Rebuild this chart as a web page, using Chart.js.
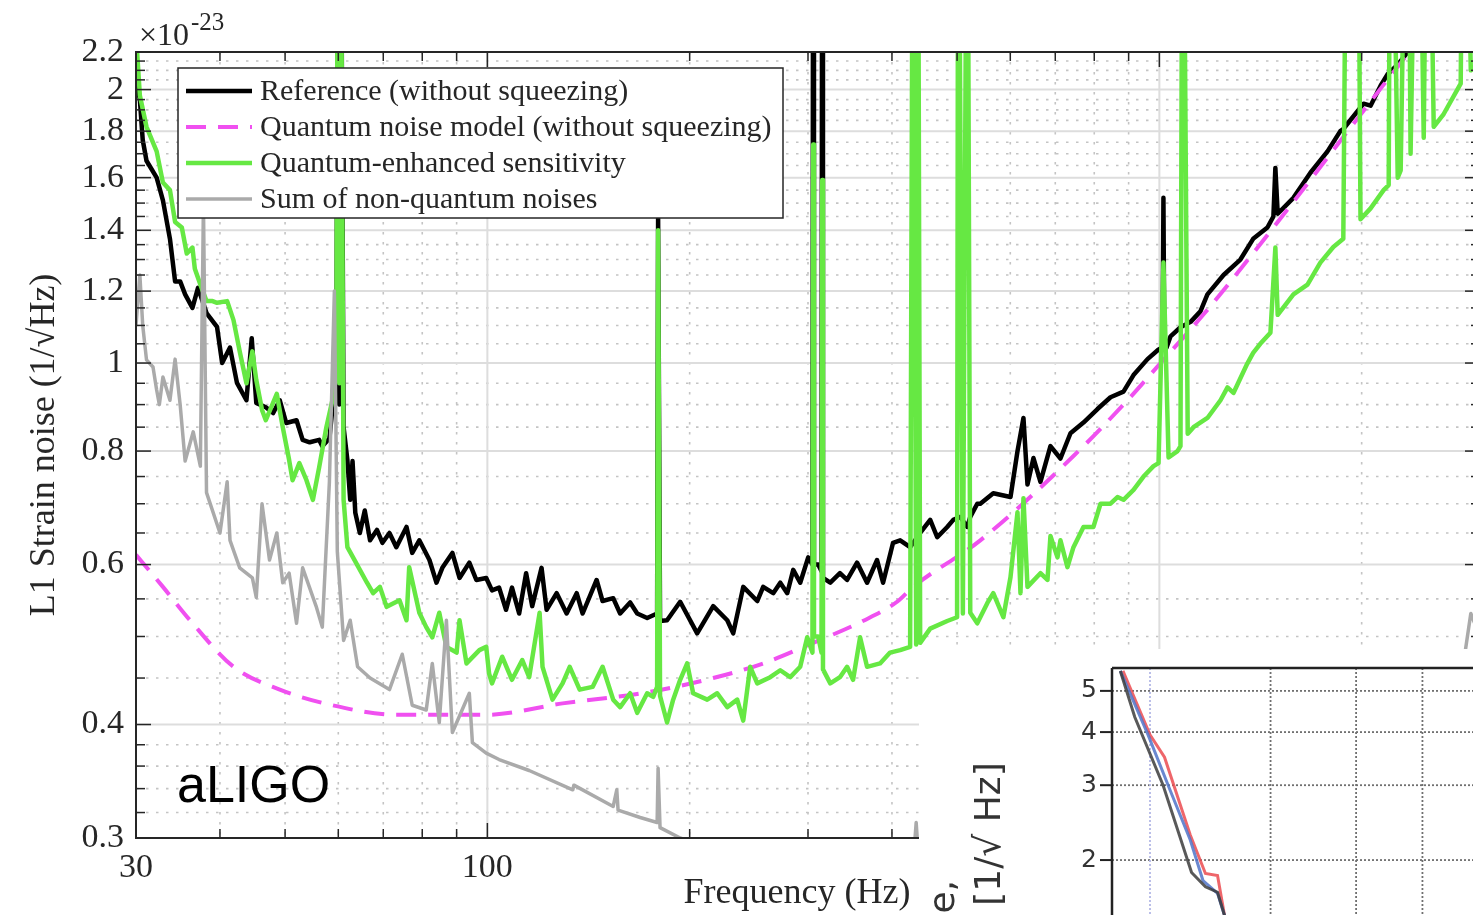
<!DOCTYPE html>
<html>
<head>
<meta charset="utf-8">
<script src="https://cdn.jsdelivr.net/npm/chart.js@4.4.1/dist/chart.umd.min.js"></script>
<style>
    html, body { margin: 0; padding: 0; background: #fff; overflow: hidden; width: 1473px; height: 915px; }
    #main { position: absolute; left: 0; top: 0; }
    #insetBox { position: absolute; left: 919px; top: 649px; width: 620px; height: 500px; background: #fff; }
</style>
</head>
<body>
<canvas id="main" width="1500" height="915"></canvas>
<div id="insetBox"><canvas id="inset" width="620" height="500"></canvas></div>
<script>
// Szum odniesienia (bez ściskania)
const refFreq = [30, 30.4, 30.7, 31.1, 32.2, 32.9, 33.7, 34.3, 34.9, 35.5, 36.4, 37.1, 38.2, 39.6, 40.3, 41.4, 42.4, 43.8, 44.6, 45.3,
    46.8, 48.0, 49.1, 50.2, 52.0, 53.1, 54.4, 56.2, 56.8, 58.2, 58.8, 59.6, 60.0, 60.2, 60.4, 61.1, 61.9, 62.5, 63.0, 63.6,
    64.6, 65.7, 66.9, 68.5, 69.8, 71.5, 73.2, 75.8, 77.3, 79.2, 82.0, 84.0, 85.7, 88.7, 90.9, 94.0, 96.3, 99.6, 101.6, 104.1,
    106.6, 108.8, 111.5, 114.2, 116.6, 120.4, 122.5, 126.8, 131.2, 135.8, 138.6, 145.4, 148.4, 153.9, 157.6, 163.1, 167.1, 172.9, 178.9, 179.5,
    180.7, 185.1, 193.6, 205.2, 216.8, 227.5, 232.2, 240.3, 252.1, 257.3, 266.3, 272.8, 279.4, 285.2, 292.1, 300.2, 304.6, 305.4, 306.2, 310.7,
    314.2, 315.0, 315.8, 323.8, 334.7, 343.0, 354.9, 367.3, 380.1, 388.0, 401.5, 411.4, 425.7, 440.6, 456.0, 467.1, 483.4, 493.5, 505.5, 517.8,
    523.1, 535.8, 541.4, 566.0, 600.4, 615.0, 627.7, 636.4, 649.6, 665.3, 688.5, 712.5, 737.4, 771.0, 808.9, 845.8, 884.3, 915.2, 960.2, 997.1,
    1011, 1014, 1017, 1025, 1039, 1075, 1113, 1151, 1179, 1246, 1320, 1379, 1448, 1478, 1488, 1500, 1583, 1678, 1779, 1859,
    1878, 2013, 2062, 2134, 2186, 2263, 2341, 2500, 3000];
const refVals = [2.06, 1.95, 1.76, 1.67, 1.60, 1.51, 1.37, 1.23, 1.23, 1.19, 1.15, 1.21, 1.135, 1.096, 1.0, 1.04, 0.951, 0.91, 1.065, 0.904,
    0.894, 0.881, 0.91, 0.859, 0.865, 0.823, 0.818, 0.823, 0.81, 0.826, 0.89, 0.95, 5, 0.9, 5, 0.85, 0.782, 0.707, 0.78, 0.684,
    0.65, 0.688, 0.638, 0.655, 0.634, 0.65, 0.627, 0.66, 0.618, 0.638, 0.607, 0.573, 0.595, 0.618, 0.58, 0.603, 0.577, 0.58, 0.562, 0.566,
    0.535, 0.566, 0.53, 0.587, 0.54, 0.595, 0.535, 0.558, 0.53, 0.558, 0.53, 0.577, 0.547, 0.551, 0.53, 0.545, 0.53, 0.524, 0.53, 1.444,
    0.52, 0.521, 0.546, 0.504, 0.54, 0.521, 0.504, 0.567, 0.547, 0.567, 0.558, 0.573, 0.558, 0.592, 0.573, 0.611, 0.6, 5, 0.6, 0.6,
    0.59, 5, 0.58, 0.573, 0.587, 0.577, 0.603, 0.573, 0.607, 0.573, 0.634, 0.638, 0.627, 0.65, 0.672, 0.643, 0.66, 0.672, 0.677, 0.66,
    0.677, 0.70, 0.70, 0.719, 0.712, 0.80, 0.87, 0.735, 0.786, 0.74, 0.81, 0.785, 0.837, 0.86, 0.89, 0.917, 0.93, 0.97, 1.01, 1.035,
    1.04, 1.52, 1.04, 1.04, 1.07, 1.095, 1.11, 1.14, 1.19, 1.25, 1.30, 1.37, 1.41, 1.45, 1.64, 1.46, 1.52, 1.62, 1.71, 1.80,
    1.81, 1.93, 1.92, 2.02, 2.08, 2.13, 2.2, 2.35, 2.75];

// Model szumu kwantowego (bez ściskania)
const modelFreq = [30, 32.9, 36.1, 41.9, 49.1, 58.8, 73.2, 99.6, 129.4, 172.9, 216.8, 257.3, 305.4, 362, 407.1, 430.1, 541.4, 745, 896.6, 1004,
    1162, 1478, 2286, 3000];
const modelVals = [0.615, 0.567, 0.521, 0.463, 0.437, 0.42, 0.41, 0.41, 0.422, 0.434, 0.45, 0.467, 0.492, 0.52, 0.546, 0.567, 0.638, 0.79, 0.91, 1.0,
    1.13, 1.41, 2.14, 2.75];

// Czułość ze ściskaniem kwantowym
const sqzFreq = [30, 30.4, 31.1, 32.2, 32.9, 33.7, 34.3, 35.1, 35.7, 36.4, 36.7, 37.4, 38.2, 39.0, 39.6, 41.0, 41.9, 42.8, 43.8, 44.7,
    45.3, 46.2, 46.8, 48.6, 49.6, 50.7, 51.3, 52.5, 53.8, 55.0, 56.2, 57.6, 58.8, 59.6, 60.0, 60.2, 60.4, 61.1, 61.9, 63.2,
    66.2, 67.6, 69.2, 70.8, 74.0, 75.8, 76.5, 79.2, 81.1, 82.8, 84.8, 86.9, 90.0, 90.9, 93.1, 97.3, 99.6, 100.6, 101.6, 105.2,
    108.8, 112.7, 115.4, 119.6, 120.8, 125.0, 129.4, 132.6, 137.2, 143.4, 148.4, 153.9, 157.6, 163.1, 167.1, 172.9, 176.5, 178.9, 179.5, 180.7,
    185.1, 189.0, 193.6, 198.3, 202.4, 212.4, 219.8, 227.5, 235.4, 240.3, 246.1, 252.1, 263.6, 272.8, 282.3, 292.1, 299.2, 304.6, 305.4, 306.2,
    310.7, 314.2, 315.0, 315.8, 323.8, 334.7, 343.0, 350.1, 358.6, 367.3, 384.0, 397.4, 411.4, 425.7, 430.1, 434.6, 437, 440.6, 456.0, 483.4,
    500, 502, 510, 517.8, 523.1, 535.8, 554.5, 566.0, 585.9, 600.4, 615.0, 621.3, 627.7, 636.4, 665.3, 681.5, 688.5, 705.3, 712.5, 729.8,
    745.0, 771.0, 797.8, 817.3, 845.8, 866.3, 884.3, 915.2, 947.1, 980.1, 997.1, 1014, 1032, 1064, 1075, 1083, 1102, 1124, 1179, 1233,
    1263, 1289, 1351, 1379, 1413, 1463, 1488, 1500, 1583, 1661, 1736, 1815, 1878, 1904, 1971, 1992, 2062, 2156, 2194, 2209,
    2263, 2286, 2341, 2365, 2423, 2474, 2508, 2560, 2649, 2808, 2838, 2907, 3000];
const sqzVals = [2.3, 1.97, 1.82, 1.71, 1.58, 1.55, 1.43, 1.41, 1.32, 1.34, 1.27, 1.22, 1.17, 1.17, 1.165, 1.17, 1.115, 1.03, 0.95, 1.03,
    0.958, 0.888, 0.865, 0.925, 0.85, 0.782, 0.743, 0.776, 0.743, 0.707, 0.768, 0.85, 0.91, 1.0, 5, 0.95, 5, 0.707, 0.627, 0.61,
    0.573, 0.558, 0.567, 0.539, 0.548, 0.521, 0.596, 0.531, 0.512, 0.499, 0.531, 0.487, 0.48, 0.521, 0.467, 0.483, 0.487, 0.455, 0.444, 0.475,
    0.448, 0.471, 0.451, 0.531, 0.463, 0.426, 0.444, 0.463, 0.437, 0.44, 0.463, 0.426, 0.418, 0.433, 0.412, 0.433, 0.429, 0.44, 1.40, 0.43,
    0.402, 0.426, 0.448, 0.467, 0.433, 0.426, 0.433, 0.418, 0.426, 0.404, 0.463, 0.444, 0.451, 0.459, 0.451, 0.463, 0.499, 0.48, 1.74, 0.5,
    0.5, 0.48, 1.59, 0.46, 0.444, 0.451, 0.463, 0.448, 0.499, 0.463, 0.467, 0.48, 0.483, 0.487, 5, 0.49, 5, 0.492, 0.51, 0.52,
    0.525, 5, 0.53, 5, 0.531, 0.517, 0.544, 0.558, 0.525, 0.581, 0.685, 0.558, 0.71, 0.567, 0.587, 0.577, 0.645, 0.611, 0.638, 0.596,
    0.627, 0.66, 0.66, 0.70, 0.70, 0.712, 0.707, 0.725, 0.75, 0.77, 0.776, 1.29, 0.787, 0.80, 0.81, 5, 0.836, 0.85, 0.87, 0.91,
    0.94, 0.927, 0.998, 1.026, 1.05, 1.08, 1.34, 1.13, 1.19, 1.22, 1.29, 1.342, 1.37, 5, 5, 1.44, 1.48, 1.55, 1.57, 5,
    1.6, 1.63, 5, 1.7, 5, 1.77, 5, 1.82, 1.88, 2.03, 5, 2.1, 2.15];

// Suma szumów niekwantowych
const techFreq = [30, 30.4, 30.7, 31.1, 31.8, 32.2, 32.5, 32.9, 33.7, 34.3, 34.9, 35.5, 36.5, 37.4, 37.8, 38.2, 40.0, 41.0, 41.4, 42.8,
    44.7, 45.3, 46.2, 47.4, 48.6, 49.6, 50.7, 52.0, 53.1, 55.6, 56.8, 58.2, 59.2, 59.8, 61.1, 62.5, 64.1, 66.9, 71.5, 74.7,
    77.3, 81.1, 82.8, 84.8, 86.9, 88.7, 94.0, 95.0, 99.6, 104.1, 115.4, 134.0, 134.5, 153.9, 155.8, 156.5, 168.8, 178.9, 179.5, 180.7,
    193.6, 220, 420, 430, 434.6, 440, 1000, 2000, 2700, 2838, 2907, 3000];
const techVals = [1.10, 1.25, 1.10, 1.008, 0.99, 0.934, 0.90, 0.965, 0.91, 1.01, 0.90, 0.78, 0.84, 0.77, 1.5, 0.72, 0.65, 0.74, 0.638, 0.595,
    0.58, 0.552, 0.70, 0.607, 0.65, 0.573, 0.587, 0.517, 0.595, 0.54, 0.512, 0.74, 1.2, 0.62, 0.495, 0.521, 0.463, 0.45, 0.437, 0.478,
    0.42, 0.415, 0.467, 0.402, 0.521, 0.392, 0.433, 0.382, 0.372, 0.366, 0.356, 0.339, 0.343, 0.325, 0.339, 0.322, 0.316, 0.312, 0.358, 0.308,
    0.30, 0.29, 0.272, 0.28, 0.312, 0.272, 0.26, 0.31, 0.40, 0.47, 0.53, 0.5];

// Osie i siatka
const xTickVals = [30, 100, 1000];
const xMinorGrid = [40, 50, 60, 70, 80, 90, 200, 300, 400, 500, 600, 700, 800, 900, 2000];
const xMajorGrid = [100, 1000];
const yTickVals = [0.3, 0.4, 0.6, 0.8, 1, 1.2, 1.4, 1.6, 1.8, 2, 2.2];
const yMinorGrid = [0.32, 0.34, 0.36, 0.38, 0.45, 0.5, 0.55, 0.65, 0.7, 0.75, 0.85, 0.9, 0.95, 1.05, 1.1, 1.15,
    1.25, 1.3, 1.35, 1.45, 1.5, 1.55, 1.65, 1.7, 1.75, 1.85, 1.9, 1.95, 2.05, 2.1, 2.15];

// Wstawka (fragment innego wykresu w prawym dolnym rogu)
const insetRedX = [1.826, 2.0, 2.10, 2.29, 2.41, 2.51, 2.57, 2.63, 2.75];
const insetRedY = [5.57, 3.94, 3.49, 2.29, 1.86, 1.84, 1.48, 1.23, 0.95];
const insetBlueX = [1.81, 1.987, 2.14, 2.29, 2.39, 2.51, 2.57, 2.63, 2.75];
const insetBlueY = [5.57, 3.94, 2.92, 2.23, 1.79, 1.67, 1.48, 1.23, 0.95];
const insetDarkX = [1.81, 1.90, 2.09, 2.30, 2.41, 2.51, 2.57, 2.63, 2.75];
const insetDarkY = [5.57, 4.34, 3.00, 1.87, 1.73, 1.68, 1.48, 1.23, 0.95];
const insetYTicks = [1, 2, 3, 4, 5];
const insetXGrid = [3, 4, 5, 6, 7];
const insetMarkX = [2];

const INK = "#262626";
const SERIF = "'Liberation Serif', 'Times New Roman', serif";

function toPoints(xs, ys) {
    return xs.map((v, i) => ({ x: v, y: ys[i] }));
}

function hLine(ctx, py, x0, x1) {
    ctx.beginPath();
    ctx.moveTo(x0, py);
    ctx.lineTo(x1, py);
    ctx.stroke();
}

function vLine(ctx, px, y0, y1) {
    ctx.beginPath();
    ctx.moveTo(px, y0);
    ctx.lineTo(px, y1);
    ctx.stroke();
}

// Siatka, ramka, znaczniki, legenda i napisy głównego wykresu
const mainDecor = {
    id: "mainDecor",
    beforeDatasetsDraw(chart) {
        const { ctx, chartArea: a, scales: { x, y } } = chart;
        ctx.save();
        ctx.lineWidth = 1.6;
        ctx.strokeStyle = "#c4c4c4";
        ctx.setLineDash([2.5, 7.5]);
        xMinorGrid.forEach(v => vLine(ctx, x.getPixelForValue(v), a.top, a.bottom));
        yMinorGrid.forEach(v => hLine(ctx, y.getPixelForValue(v), a.left, a.right));
        ctx.setLineDash([]);
        ctx.strokeStyle = "#dddddd";
        ctx.lineWidth = 2;
        xMajorGrid.forEach(v => vLine(ctx, x.getPixelForValue(v), a.top, a.bottom));
        yTickVals.slice(1, -1).forEach(v => hLine(ctx, y.getPixelForValue(v), a.left, a.right));
        ctx.restore();
    },
    afterDatasetsDraw(chart) {
        const { ctx, chartArea: a, scales: { x, y } } = chart;
        ctx.save();
        ctx.strokeStyle = INK;
        ctx.lineWidth = 2;
        ctx.strokeRect(a.left, a.top, a.right - a.left, a.bottom - a.top);

        // znaczniki skierowane do środka
        ctx.lineWidth = 1.5;
        const xAll = xTickVals.concat(xMinorGrid, [3000]);
        xAll.forEach(v => {
            const len = xTickVals.includes(v) ? 15 : 9;
            const px = x.getPixelForValue(v);
            vLine(ctx, px, a.bottom, a.bottom - len);
            vLine(ctx, px, a.top, a.top + len);
        });
        const yAll = yTickVals.concat(yMinorGrid);
        yAll.forEach(v => {
            const len = yTickVals.includes(v) ? 15 : 9;
            const py = y.getPixelForValue(v);
            hLine(ctx, py, a.left, a.left + len);
            hLine(ctx, py, a.right, a.right - len);
        });

        // legenda
        const box = { left: 178, top: 68, width: 605, height: 150, row: 36 };
        ctx.fillStyle = "#fff";
        ctx.fillRect(box.left, box.top, box.width, box.height);
        ctx.lineWidth = 1.5;
        ctx.strokeStyle = INK;
        ctx.strokeRect(box.left, box.top, box.width, box.height);
        ctx.font = "30px " + SERIF;
        ctx.textBaseline = "middle";
        ctx.textAlign = "left";
        chart.data.datasets.forEach((ds, i) => {
            const ry = box.top + 23 + i * box.row;
            ctx.save();
            ctx.strokeStyle = ds.borderColor;
            ctx.lineWidth = ds.borderWidth;
            ctx.setLineDash(ds.borderDash || []);
            hLine(ctx, ry, box.left + 8, box.left + 74);
            ctx.restore();
            ctx.fillStyle = INK;
            ctx.fillText(ds.label, box.left + 82, ry + 1);
        });

        // podpis osi X
        ctx.fillStyle = INK;
        ctx.font = "36px " + SERIF;
        ctx.textAlign = "center";
        ctx.textBaseline = "alphabetic";
        ctx.fillText("Frequency (Hz)", 797, 903);

        // mnożnik osi Y i podpis detektora
        ctx.textAlign = "left";
        ctx.font = "32px " + SERIF;
        ctx.fillText("\u00d710", 139, 45);
        const w = ctx.measureText("\u00d710").width;
        ctx.font = "25px " + SERIF;
        ctx.fillText("-23", 139 + w + 2, 30);
        ctx.fillStyle = "#000";
        ctx.font = "52px 'Liberation Sans', Arial, sans-serif";
        ctx.fillText("aLIGO", 177, 802);
        ctx.restore();
    }
};

// Siatka i opisy wstawki
const insetDecor = {
    id: "insetDecor",
    beforeDatasetsDraw(chart) {
        const { ctx, chartArea: a, scales: { x, y } } = chart;
        ctx.save();
        ctx.lineWidth = 1.8;
        ctx.setLineDash([2, 2]);
        ctx.strokeStyle = "#707070";
        insetYTicks.forEach(v => hLine(ctx, y.getPixelForValue(v), a.left, a.right));
        insetXGrid.forEach(v => vLine(ctx, x.getPixelForValue(v), a.top, a.bottom));
        ctx.strokeStyle = "#b4b8e6";
        insetMarkX.forEach(v => vLine(ctx, x.getPixelForValue(v), a.top, a.bottom));
        ctx.restore();
    },
    afterDatasetsDraw(chart) {
        const { ctx, chartArea: a, scales: { y } } = chart;
        ctx.save();
        ctx.strokeStyle = "#222";
        ctx.lineWidth = 2.5;
        hLine(ctx, a.top, a.left, a.right);
        vLine(ctx, a.left, a.top, a.bottom);
        ctx.lineWidth = 2;
        insetYTicks.forEach(v => hLine(ctx, y.getPixelForValue(v), a.left - 12, a.left));

        ctx.fillStyle = "#333";
        ctx.font = "36px 'DejaVu Sans', sans-serif";
        ctx.textBaseline = "middle";
        ctx.save();
        ctx.translate(72, 185);
        ctx.rotate(-Math.PI / 2);
        ctx.textAlign = "center";
        ctx.fillText("[1/\u221a Hz]", 0, 0);
        ctx.restore();
        ctx.save();
        ctx.translate(26, 231);
        ctx.rotate(-Math.PI / 2);
        ctx.textAlign = "right";
        ctx.fillText("Noise amplitude,", 0, 0);
        ctx.restore();
        ctx.restore();
    }
};

function noPadding(s) {
    s.paddingTop = 0;
    s.paddingBottom = 0;
    s.paddingLeft = 0;
    s.paddingRight = 0;
}

new Chart(document.getElementById("main"), {
    type: "line",
    data: {
        datasets: [
            { label: "Reference (without squeezing)", data: toPoints(refFreq, refVals),
              borderColor: "#000000", borderWidth: 4.5, order: 4 },
            { label: "Quantum noise model (without squeezing)", data: toPoints(modelFreq, modelVals),
              borderColor: "#f050f0", borderWidth: 4, borderDash: [20, 12], cubicInterpolationMode: "monotone", order: 3 },
            { label: "Quantum-enhanced sensitivity", data: toPoints(sqzFreq, sqzVals),
              borderColor: "#66e843", borderWidth: 4.5, order: 2 },
            { label: "Sum of non-quantum noises", data: toPoints(techFreq, techVals),
              borderColor: "#aaaaaa", borderWidth: 3.5, order: 1 }
        ]
    },
    options: {
        responsive: false,
        animation: false,
        layout: { padding: { top: 52, right: 20, left: 0, bottom: 0 } },
        plugins: { legend: { display: false }, tooltip: { enabled: false } },
        elements: { point: { radius: 0 }, line: { tension: 0, borderJoinStyle: "round" } },
        scales: {
            x: {
                type: "logarithmic",
                min: 30,
                max: 3000,
                grid: { display: false, drawTicks: false },
                border: { display: false },
                afterBuildTicks: s => { s.ticks = xTickVals.map(v => ({ value: v })); },
                afterFit: s => { s.height = 77; noPadding(s); },
                ticks: {
                    autoSkip: false, maxRotation: 0, padding: 10, color: INK,
                    font: { family: SERIF, size: 34 },
                    callback: v => String(v)
                }
            },
            y: {
                type: "logarithmic",
                min: 0.3,
                max: 2.2,
                grid: { display: false, drawTicks: false },
                border: { display: false },
                afterBuildTicks: s => { s.ticks = yTickVals.map(v => ({ value: v })); },
                afterFit: s => { s.width = 136; noPadding(s); },
                ticks: {
                    autoSkip: false, padding: 12, color: INK,
                    font: { family: SERIF, size: 34 },
                    callback: v => String(v)
                },
                title: {
                    display: true, text: "L1 Strain noise (1/\u221aHz)", color: INK,
                    font: { family: SERIF, size: 36 }, padding: { top: 23, bottom: 0 }
                }
            }
        }
    },
    plugins: [mainDecor]
});

new Chart(document.getElementById("inset"), {
    type: "line",
    data: {
        datasets: [
            { data: toPoints(insetDarkX, insetDarkY), borderColor: "rgba(60,60,60,0.85)", borderWidth: 3 },
            { data: toPoints(insetBlueX, insetBlueY), borderColor: "rgba(80,115,200,0.85)", borderWidth: 3 },
            { data: toPoints(insetRedX, insetRedY), borderColor: "rgba(235,75,80,0.85)", borderWidth: 3 }
        ]
    },
    options: {
        responsive: false,
        animation: false,
        layout: { padding: { top: 19, right: 0, left: 0, bottom: 0 } },
        plugins: { legend: { display: false }, tooltip: { enabled: false } },
        elements: { point: { radius: 0 }, line: { tension: 0 } },
        scales: {
            x: {
                type: "logarithmic",
                min: 1.76,
                max: 7.4,
                grid: { display: false, drawTicks: false },
                border: { display: false },
                ticks: { display: false },
                afterFit: s => { s.height = 33; noPadding(s); }
            },
            y: {
                type: "logarithmic",
                min: 0.5,
                max: 5.66,
                grid: { display: false, drawTicks: false },
                border: { display: false },
                afterBuildTicks: s => { s.ticks = insetYTicks.map(v => ({ value: v })); },
                afterFit: s => { s.width = 193; noPadding(s); },
                ticks: {
                    autoSkip: false, padding: 15, color: "#333",
                    font: { family: "'DejaVu Sans', sans-serif", size: 25 },
                    callback: v => String(v)
                }
            }
        }
    },
    plugins: [insetDecor]
});
</script>
</body>
</html>
